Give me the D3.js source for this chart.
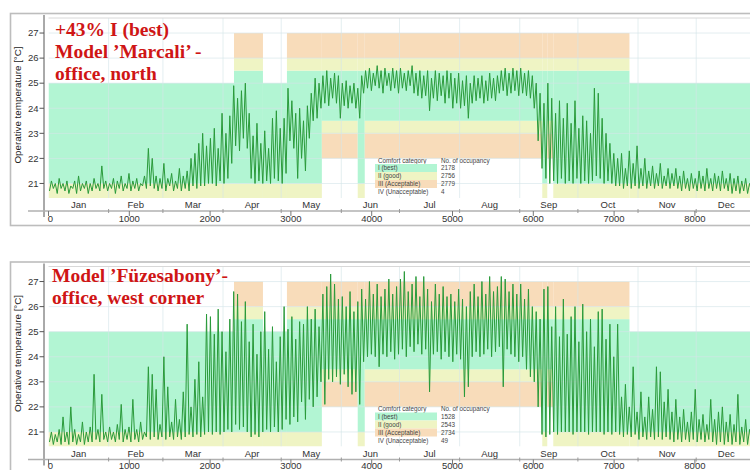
<!DOCTYPE html>
<html><head><meta charset="utf-8">
<script src="https://cdn.jsdelivr.net/npm/d3@7"></script>
<style>body{margin:0;background:#fff} svg{display:block}</style>
</head><body><svg id="c" width="750" height="470"></svg>
<script>
// ---------- data ----------
const months = ["Jan","Feb","Mar","Apr","May","Jun","Jul","Aug","Sep","Oct","Nov","Dec"];
const monthDays = [31,28,31,30,31,30,31,31,30,31,30,31];
const hourTicks = [0,1000,2000,3000,4000,5000,6000,7000,8000];
const tempTicks = [21,22,23,24,25,26,27];
const categories = ["I (best)","II (good)","III (Acceptable)","IV (Unacceptable)"];
const countsTop = [2178, 2756, 2779, 4];
const countsBottom = [1528, 2543, 2734, 49];
const titleTop = ["+43% I (best)", "Model \u2019Marcali\u2019 -", "office, north"];
const titleBottom = ["Model \u2019F\u00fczesabony\u2019-", "office, west corner"];

// comfort-band season changes (hour of year) and band set used in each interval
const seasonBreaks = [0, 2296, 2654, 2951, 3383, 3827, 3914, 6111, 6173, 6247, 7190, 8760];
const seasonTypes  = ["W","T","W","T","S","T","S","T","S","T","W"];
const bandSets = {
  W: [[20.42,21,"II"],[21,25,"I"]],
  T: [[20.42,21,"II"],[21,25.5,"I"],[25.5,26,"II"],[26,27,"III"]],
  S: [[22,23,"III"],[23,23.5,"II"],[23.5,25.5,"I"],[25.5,26,"II"],[26,27,"III"]]
};

// daily operative temperature samples (alternating night low / day high), one per day
const tempTop = [
20.7,21.1,20.8,21.0,20.6,21.2,20.8,21.0,20.7,21.1,
20.6,20.9,20.8,21.1,20.6,21.3,20.7,21.0,20.8,21.1,
20.6,21.0,20.7,21.2,20.8,21.0,20.7,21.7,20.8,21.1,
20.7,21.0,20.8,21.2,20.6,21.1,20.8,21.3,20.7,21.0,
20.8,21.4,20.7,21.1,20.8,21.2,20.7,21.0,20.9,21.3,
20.8,22.4,20.9,22.0,20.8,21.3,20.7,21.2,20.8,21.8,
20.7,21.2,20.9,21.4,20.7,21.1,20.8,21.6,20.7,21.3,
20.8,21.5,20.7,22.0,20.9,22.2,20.8,22.6,20.9,23.0,
20.9,22.5,21.0,22.8,21.0,23.2,20.9,22.4,21.1,23.8,
21.0,23.0,21.2,23.7,21.8,24.9,22.5,24.4,22.3,24.7,
22.8,25.0,22.4,23.8,21.2,22.9,21.0,23.4,21.1,22.6,
21.0,23.1,21.1,22.4,21.0,23.6,21.2,23.9,21.1,23.2,
21.0,23.6,21.4,24.8,22.7,24.3,22.4,23.8,21.2,24.0,
22.0,23.5,21.5,24.1,22.8,24.6,23.5,25.2,23.6,25.0,
24.0,25.3,24.2,25.5,24.1,25.2,24.4,25.4,24.2,25.3,
23.6,25.0,24.1,25.1,24.0,24.9,24.2,25.0,24.0,24.8,
23.6,25.3,24.6,25.5,24.8,25.6,24.7,25.4,24.9,25.7,
24.8,25.5,24.6,25.6,24.9,25.4,24.7,25.6,24.8,25.5,
24.6,25.6,24.8,25.4,24.7,25.5,24.9,25.7,24.6,25.4,
24.5,25.5,24.4,25.3,24.5,25.5,23.9,25.2,24.4,25.5,
24.3,25.4,24.5,25.3,24.2,25.5,24.4,25.4,24.0,25.2,
24.2,25.4,24.0,25.1,24.1,25.3,23.6,25.0,24.2,25.3,
24.3,25.2,24.4,25.3,24.2,25.1,24.3,25.4,24.4,25.2,
24.3,25.3,24.6,25.5,24.7,25.6,24.5,25.4,24.6,25.6,
24.7,25.5,24.5,25.6,24.6,25.4,24.5,25.5,24.4,25.3,
24.0,25.0,22.7,24.6,21.6,24.2,21.2,25.0,21.0,24.4,
21.1,23.8,21.0,24.3,21.2,23.6,21.0,24.2,21.1,23.4,
21.0,24.3,21.2,23.2,21.0,23.7,21.1,23.5,21.0,23.0,
21.1,24.8,21.3,24.6,21.2,23.6,21.0,23.0,21.1,22.6,
21.0,22.2,20.9,22.0,20.9,22.2,20.8,21.6,20.9,22.3,
20.8,21.8,20.9,22.5,20.8,21.6,20.9,22.0,20.8,21.5,
20.9,21.7,20.8,21.4,20.9,21.8,20.8,21.3,20.9,21.6,
20.8,21.4,20.9,21.6,20.8,21.3,20.7,21.5,20.8,21.2,
20.7,21.4,20.8,21.2,20.7,21.5,20.8,21.3,20.7,21.6,
20.8,21.2,20.7,21.4,20.8,21.3,20.7,21.5,20.8,21.2,
20.7,21.4,20.6,21.2,20.7,21.3,20.6,21.1,20.7,21.2,
20.6,21.0,20.7,21.1,20.6];

const tempBottom = [
20.6,21.0,20.5,20.9,20.6,21.1,20.5,21.6,20.6,21.0,
20.5,22.0,20.6,21.1,20.5,20.9,20.6,21.4,20.5,21.0,
20.6,21.2,20.6,23.3,20.7,21.1,20.6,22.5,20.7,21.0,
20.6,21.2,20.7,21.0,20.6,21.3,20.7,22.1,20.6,21.1,
20.7,21.2,20.6,22.3,20.7,21.1,20.6,21.4,20.7,21.0,
20.8,23.6,20.7,23.3,20.8,22.7,20.7,21.3,20.8,24.0,
20.7,22.8,20.8,21.4,20.7,22.3,20.8,21.5,20.7,22.6,
20.8,25.3,20.9,22.0,20.8,23.1,20.9,23.8,20.8,22.4,
20.9,25.7,21.0,25.6,20.9,24.9,21.0,25.9,20.9,25.0,
21.0,24.2,21.1,25.5,21.0,26.6,21.3,26.5,21.1,25.4,
21.2,26.2,21.0,24.6,20.8,25.3,20.9,24.1,20.8,25.0,
21.0,25.8,21.1,24.3,21.0,25.2,21.2,23.8,21.0,24.8,
21.1,26.0,21.5,25.1,21.3,25.6,21.6,24.7,21.4,25.4,
22.2,25.3,21.5,26.0,22.3,25.5,22.0,25.9,22.4,25.2,
23.0,26.5,22.1,26.8,23.1,27.3,23.0,26.9,23.2,26.3,
22.9,26.4,23.3,26.0,22.8,26.6,22.5,25.8,22.6,26.2,
22.1,26.7,23.8,26.3,24.0,27.0,24.1,26.5,24.0,26.9,
23.6,26.4,24.1,26.7,24.0,27.1,24.2,26.5,23.9,26.8,
24.1,27.1,24.3,27.4,24.0,26.6,24.4,26.9,24.2,27.2,
24.5,26.4,24.1,27.2,24.3,26.7,22.6,26.2,24.1,26.9,
24.2,26.5,23.9,26.8,24.2,26.4,24.0,26.5,23.8,26.2,
24.1,26.7,23.9,26.3,22.4,26.0,22.8,26.6,24.0,26.9,
24.2,26.4,24.0,27.0,24.1,26.5,24.3,27.2,24.0,26.6,
24.2,26.8,24.4,27.2,22.8,27.1,24.3,26.6,24.1,26.9,
24.0,26.5,23.8,26.9,24.0,26.3,23.5,26.7,23.2,26.0,
23.0,25.8,22.0,25.5,20.9,26.7,20.8,26.8,20.9,25.2,
21.0,26.0,20.9,24.8,21.0,26.3,21.0,24.9,21.0,25.6,
20.9,26.0,21.0,24.6,21.0,26.1,21.0,25.0,20.9,25.5,
21.0,24.4,21.0,25.8,21.0,25.9,20.9,24.7,21.0,25.3,
20.9,24.0,21.0,25.3,20.9,22.4,20.8,22.9,20.9,22.0,
20.8,23.6,20.9,21.8,20.7,22.6,20.8,21.6,20.7,22.4,
20.8,21.9,20.7,23.6,20.8,23.4,20.7,22.2,20.8,22.7,
20.7,21.8,20.6,22.3,20.7,21.6,20.6,21.9,20.7,21.4,
20.6,21.8,20.7,22.7,20.6,21.5,20.7,21.7,20.6,21.3,
20.7,22.3,20.6,21.5,20.5,21.8,20.6,22.0,20.5,21.4,
20.6,21.7,20.5,21.3,20.6,22.5,20.5,21.2,20.6,21.5,
20.5,21.1,20.6,21.3,20.5];

// ---------- drawing ----------
const catColor = {I:"#b2f5d3", II:"#eff4c4", III:"#f8dcba"};
const svg = d3.select("#c");
const x = d3.scaleLinear().domain([0, 8760]).range([48.5, 48.5 + 8760*0.0808]);
const monthStarts = d3.cumsum([0].concat(monthDays.slice(0,11))).map(d => d*24);
const monthMids = monthDays.map((d,i) => monthStarts[i] + d*12);

function panel(dy, temps, title, counts, titleX, id, tickLabelY) {
  const g = svg.append("g").attr("transform", `translate(0,${dy})`);
  const y = d3.scaleLinear().domain([20.42, 27.6]).range([198, 18]);
  const plotL = x(0), plotR = 750;

  g.append("rect").attr("x",10.5).attr("y",13.5).attr("width",760).attr("height",212)
    .attr("fill","#fff").attr("stroke","#bdbdbd").attr("stroke-width",1.6);

  g.append("clipPath").attr("id","clip"+id).append("rect")
    .attr("x",plotL).attr("y",y(27.6)).attr("width",plotR-plotL).attr("height",y(20.42)-y(27.6));
  const p = g.append("g").attr("clip-path",`url(#clip${id})`);

  // comfort bands
  seasonTypes.forEach((t,i) => {
    const h0 = seasonBreaks[i], h1 = seasonBreaks[i+1];
    bandSets[t].forEach(b => {
      p.append("rect").attr("x",x(h0)).attr("width",x(h1)-x(h0))
        .attr("y",y(b[1])).attr("height",y(b[0])-y(b[1]))
        .attr("fill",catColor[b[2]]);
    });
  });

  // grid
  p.selectAll(".vg").data(monthStarts.slice(1)).enter().append("line")
    .attr("x1",d=>x(d)).attr("x2",d=>x(d)).attr("y1",y(27.6)).attr("y2",y(20.42))
    .attr("stroke","#d6e6ea").attr("stroke-width",0.8).attr("opacity",0.8);
  p.selectAll(".hg").data(tempTicks).enter().append("line")
    .attr("x1",plotL).attr("x2",plotR).attr("y1",d=>y(d)).attr("y2",d=>y(d))
    .attr("stroke","#d6e6ea").attr("stroke-width",0.8).attr("opacity",0.8);
  g.append("line").attr("x1",plotL).attr("x2",plotR).attr("y1",y(27.6)).attr("y2",y(27.6))
    .attr("stroke","#d8d8d8").attr("stroke-width",1);

  // temperature line
  const line = d3.line().x((d,i)=>x(i*24+12)).y(d=>y(d));
  p.append("path").datum(temps).attr("d",line).attr("fill","none")
    .attr("stroke","#2a9a3a").attr("stroke-width",1).attr("stroke-linejoin","round");

  // y axis
  g.append("line").attr("x1",44).attr("x2",44).attr("y1",15).attr("y2",217)
    .attr("stroke","#555").attr("stroke-width",1);
  tempTicks.forEach(t => {
    g.append("line").attr("x1",39.5).attr("x2",44).attr("y1",y(t)).attr("y2",y(t)).attr("stroke","#555");
    g.append("text").attr("x",38.5).attr("y",y(t)+3.3).attr("text-anchor","end")
      .attr("font-family","Liberation Sans, Arial").attr("font-size",9.5).attr("fill","#333").text(t);
  });
  g.append("text").attr("transform","translate(20.5,105) rotate(-90)").attr("text-anchor","middle")
    .attr("font-family","Liberation Sans, Arial").attr("font-size",9.8).attr("fill","#222")
    .text("Operative temperature [\u00b0C]");

  // x axis
  g.append("line").attr("x1",28).attr("x2",750).attr("y1",211).attr("y2",211)
    .attr("stroke","#b0b0b0").attr("stroke-width",1.5);
  monthStarts.slice(1).forEach(h => {
    g.append("line").attr("x1",x(h)).attr("x2",x(h)).attr("y1",209).attr("y2",213).attr("stroke","#999");
  });
  hourTicks.forEach(h => {
    g.append("line").attr("x1",x(h)).attr("x2",x(h)).attr("y1",211).attr("y2",216).attr("stroke","#777");
    g.append("text").attr("x",x(h)+(h===0?2:0)).attr("y",tickLabelY).attr("text-anchor","middle")
      .attr("font-family","Liberation Sans, Arial").attr("font-size",9.5).attr("fill","#333").text(h);
  });
  months.forEach((m,i) => {
    g.append("text").attr("x",x(monthMids[i])).attr("y",208).attr("text-anchor","middle")
      .attr("font-family","Liberation Sans, Arial").attr("font-size",9.5).attr("fill","#333").text(m);
  });

  // legend
  const lg = g.append("g");
  lg.append("text").attr("x",378).attr("y",162.5).attr("font-family","Liberation Sans, Arial")
    .attr("font-size",6.3).attr("fill","#444").text("Comfort category");
  lg.append("text").attr("x",441).attr("y",162.5).attr("font-family","Liberation Sans, Arial")
    .attr("font-size",6.3).attr("fill","#444").text("No. of occupancy");
  const legCols = [catColor.I, catColor.II, catColor.III, "none"];
  categories.forEach((c,i) => {
    const top = 164 + i*8;
    lg.append("rect").attr("x",375).attr("y",top).attr("width",62).attr("height",8).attr("fill",legCols[i]);
    lg.append("text").attr("x",378).attr("y",top+6.3).attr("font-family","Liberation Sans, Arial")
      .attr("font-size",6.3).attr("fill","#444").text(c);
    lg.append("text").attr("x",441).attr("y",top+6.3).attr("font-family","Liberation Sans, Arial")
      .attr("font-size",6.3).attr("fill","#444").text(counts[i]);
  });

  // title
  title.forEach((t,i) => {
    g.append("text").attr("x",titleX).attr("y",(title.length===3?35.5:33.5)+i*22)
      .attr("font-family","Liberation Serif, Times New Roman, serif").attr("font-weight","bold")
      .attr("font-size",19.5).attr("fill","#cf1515").text(t);
  });
}

panel(0, tempTop, titleTop, countsTop, 55, "a", 222);
panel(248.5, tempBottom, titleBottom, countsBottom, 52, "b", 220.3);
</script></body></html>
